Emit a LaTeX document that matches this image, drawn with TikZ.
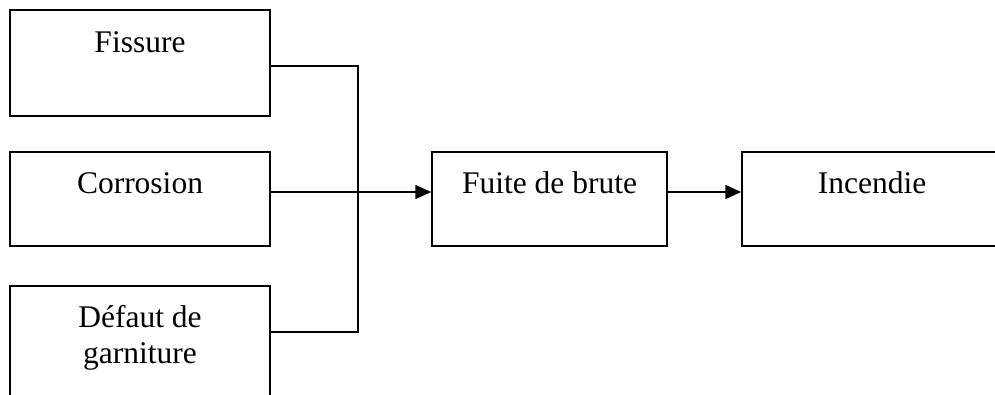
\documentclass[tikz,border=0pt]{standalone}
\usepackage{fontspec}
\setmainfont{Liberation Serif}
\usetikzlibrary{arrows.meta}

\tikzset{
	box/.style={draw,line width=1.5pt,minimum width=260pt,inner sep=0pt},
	txt/.style={font=\fontsize{31.5}{36}\selectfont,inner sep=0pt,align=center},
	link/.style={line width=1.6pt}
}

\begin{document}
\begin{tikzpicture}[>={Triangle[length=16pt,width=14pt]},x=1pt,y=-1pt]
	\useasboundingbox (0,0) rectangle (995,394);
	\clip (0,0) rectangle (995,394);
	\node[box,minimum height=106pt] (fis) at (140,63) {};
	\node[box,minimum height=94pt] (cor) at (140,199) {};
	\node[box,minimum height=120pt] (def) at (140,346) {};
	\node[box,minimum width=235pt,minimum height=94pt] (fui) at (549.5,199) {};
	\node[box,minimum height=94pt] (inc) at (872,199) {};

	\node[txt,anchor=base] (tfis) at (140,52) {Fissure};
	\node[txt,anchor=base] (tcor) at (140,193) {Corrosion};
	\node[txt,anchor=north] (tdef) at (140,305) {Défaut de\\garniture};
	\node[txt,anchor=base] (tfui) at (549.5,193) {Fuite de brute};
	\node[txt,anchor=base] (tinc) at (872,193) {Incendie};

	\coordinate (j) at (358,192);
	\draw[link] ([yshift=-3pt]fis.east) -| (j);
	\draw[link] ([yshift=14pt]def.east) -| (j);
	\draw[link,->] ([yshift=7pt]cor.east) -- ([yshift=7pt]fui.west);
	\draw[link,->] ([yshift=7pt]fui.east) -- ([yshift=7pt]inc.west);
\end{tikzpicture}
\end{document}
